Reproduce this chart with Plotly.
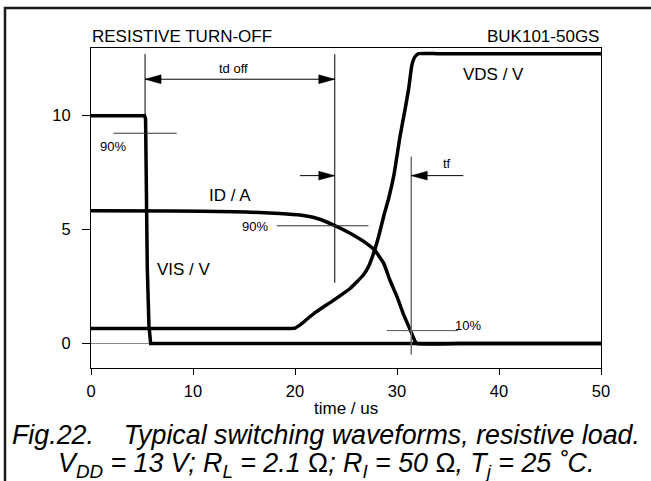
import plotly.graph_objects as go

# ---------------- data ----------------
time_vis = [0, 5.25, 5.35, 5.52, 5.68, 5.85, 50]
vis_v = [10, 10, 9.85, 3.3, 0.8, 0, 0]

time_id = [0, 8, 14, 16.5, 18.5, 20.5, 22.1, 23.8, 25.4, 27.0, 27.8, 28.7, 29.3, 30.0, 30.6, 31.3, 31.8, 32.0, 36, 43, 50]
id_a = [5.83, 5.82, 5.79, 5.75, 5.71, 5.64, 5.50, 5.20, 4.84, 4.40, 4.11, 3.52, 2.79, 2.06, 1.33, 0.60, 0.08, 0.0, 0.0, 0.0, 0.0]

time_vds = [0, 7, 14, 19.0, 20.0, 20.5, 21.2, 22.1, 23.8, 25.4, 26.7, 27.2, 27.7, 28.2, 28.7, 29.2, 29.7,
            30.3, 30.8, 31.15, 31.45, 31.75, 32.1, 34, 42, 50]
vds_v = [0.66, 0.66, 0.66, 0.66, 0.68, 0.82, 1.08, 1.40, 1.91, 2.42, 3.01, 3.37, 3.96, 4.70, 5.60, 6.40, 7.40,
         9.1, 10.3, 11.2, 12.2, 12.58, 12.72, 12.72, 12.72, 12.72]

x_ticks = [0, 10, 20, 30, 40, 50]
y_ticks = [0, 5, 10]

# timing markers (time, level)
td_off_start = 5.3
td_off_end = 23.9
tf_time = 31.4
level_90_vis = 9.23
level_90_id = 5.17
level_10_id = 0.57

# ---------------- layout geometry ----------------
W, H = 651, 481
M_L, M_R, M_T, M_B = 91, 50, 48, 113
X_RANGE = [0, 50]
Y_RANGE = [-1.07, 12.97]
PX_X = (W - M_L - M_R) / (X_RANGE[1] - X_RANGE[0])
PX_Y = (H - M_T - M_B) / (Y_RANGE[1] - Y_RANGE[0])
HEAD_LEN = 16
HEAD_HALF = 4.4
FONT = "Liberation Sans, Arial, sans-serif"

fig = go.Figure()
fig.add_trace(go.Scatter(x=time_vis, y=vis_v, mode="lines",
                         line=dict(color="black", width=3.5), hoverinfo="skip"))
fig.add_trace(go.Scatter(x=time_id, y=id_a, mode="lines",
                         line=dict(color="black", width=3.5, shape="spline", smoothing=0.4), hoverinfo="skip"))
fig.add_trace(go.Scatter(x=time_vds, y=vds_v, mode="lines",
                         line=dict(color="black", width=3.5, shape="spline", smoothing=0.4), hoverinfo="skip"))

shapes = []


def seg(x0, y0, x1, y1, color="black", width=1):
    shapes.append(dict(type="line", xref="x", yref="y", x0=x0, y0=y0, x1=x1, y1=y1,
                       line=dict(color=color, width=width), layer="above"))


def head(x_tip, y, direction):
    L = HEAD_LEN / PX_X
    h = HEAD_HALF / PX_Y
    xb = x_tip - direction * L
    shapes.append(dict(type="path", xref="x", yref="y",
                       path=f"M{x_tip},{y} L{xb},{y + h} L{xb},{y - h} Z",
                       fillcolor="black", line=dict(color="black", width=0.5), layer="above"))


# td off markers
seg(td_off_start, 10, td_off_start, 12.7)
seg(td_off_end, 2.67, td_off_end, 12.7)
seg(td_off_start, 11.6, td_off_end, 11.6)
head(td_off_start, 11.6, -1)
head(td_off_end, 11.6, 1)
# arrow into td off end at mid height
seg(20.5, 7.37, td_off_end, 7.37)
head(td_off_end, 7.37, 1)
# tf marker
seg(tf_time, -0.48, tf_time, 8.2, color="#6e6e6e", width=1.5)
seg(tf_time, 7.37, 36.5, 7.37)
head(tf_time, 7.37, -1)
# level lines
seg(2.2, level_90_vis, 8.4, level_90_vis, color="#333333")
seg(18.2, level_90_id, 27.2, level_90_id, color="#333333")
seg(29.0, level_10_id, 36.0, level_10_id, color="#555555")

pw = W - M_L - M_R
ph = H - M_T - M_B


def px_to_paper_x(px):
    return (px - M_L) / pw


def px_to_paper_y(py):
    return (H - M_B - py) / ph


# outer frame (runs off the right and bottom edges as in the reference)
shapes.append(dict(type="rect", xref="paper", yref="paper",
                   x0=px_to_paper_x(5), x1=px_to_paper_x(W + 40),
                   y0=px_to_paper_y(H + 40), y1=px_to_paper_y(8),
                   line=dict(color="#1a1a1a", width=2.5), fillcolor="rgba(0,0,0,0)", layer="below"))

ann = []


def label(x, y, text, size=17, anchor="center"):
    ann.append(dict(x=x, y=y, xref="x", yref="y", text=text, showarrow=False,
                    xanchor=anchor, yanchor="middle", font=dict(family=FONT, size=size, color="black")))


label(14.0, 12.07, "td off", size=13)
label(2.2, 8.64, "90%", size=13)
label(13.6, 6.5, "ID / A")
label(9.07, 3.27, "VIS / V")
label(16.08, 5.12, "90%", size=13)
label(34.95, 7.9, "tf", size=13)
label(37.0, 0.79, "10%", size=13)
label(39.5, 11.8, "VDS / V")

ann.append(dict(x=0, y=px_to_paper_y(37), xref="paper", yref="paper", text="RESISTIVE TURN-OFF",
                showarrow=False, xanchor="left", yanchor="middle", xshift=-1,
                font=dict(family=FONT, size=17, color="black")))
ann.append(dict(x=1, y=px_to_paper_y(37), xref="paper", yref="paper", text="BUK101-50GS",
                showarrow=False, xanchor="right", yanchor="middle",
                font=dict(family=FONT, size=17, color="black")))
ann.append(dict(x=0.5, y=px_to_paper_y(408), xref="paper", yref="paper", text="time / us",
                showarrow=False, xanchor="center", yanchor="middle",
                font=dict(family=FONT, size=17, color="black")))
cx = px_to_paper_x(W / 2)
ann.append(dict(x=cx, y=px_to_paper_y(435), xref="paper", yref="paper",
                text="<i>Fig.22.\u00a0\u00a0\u00a0 Typical switching waveforms, resistive load.</i>",
                showarrow=False, xanchor="center", yanchor="middle",
                font=dict(family=FONT, size=26.8, color="black")))
ann.append(dict(x=cx, y=px_to_paper_y(465), xref="paper", yref="paper",
                text=("<i>V<sub>DD</sub> = 13 V; R<sub>L</sub> = 2.1 </i>\u03a9<i>; "
                      "R<sub>I</sub> = 50 </i>\u03a9<i>, T<sub>j</sub> = 25 \u02daC.</i>"),
                showarrow=False, xanchor="center", yanchor="middle",
                font=dict(family=FONT, size=26.8, color="black")))

fig.update_layout(
    width=W, height=H,
    margin=dict(l=M_L, r=M_R, t=M_T, b=M_B, pad=0),
    paper_bgcolor="white", plot_bgcolor="white",
    showlegend=False,
    shapes=shapes, annotations=ann,
    font=dict(family=FONT, size=16.5, color="black"),
    xaxis=dict(range=X_RANGE, tickvals=x_ticks, ticks="outside", ticklen=6, tickcolor="black",
               showline=True, linecolor="black", linewidth=1, mirror=True, showgrid=False,
               zeroline=False, tickfont=dict(size=16.5), ticklabelstandoff=2),
    yaxis=dict(range=Y_RANGE, tickvals=y_ticks, ticks="outside", ticklen=8, tickcolor="black",
               showline=True, linecolor="black", linewidth=1, mirror=True, showgrid=False,
               zeroline=True, zerolinecolor="#8a8a8a", zerolinewidth=1,
               tickfont=dict(size=16.5), ticklabelstandoff=8),
)

fig.write_html("out.html", config={"displayModeBar": False},
               post_script="document.body.style.margin='0';document.body.style.overflow='hidden';")
